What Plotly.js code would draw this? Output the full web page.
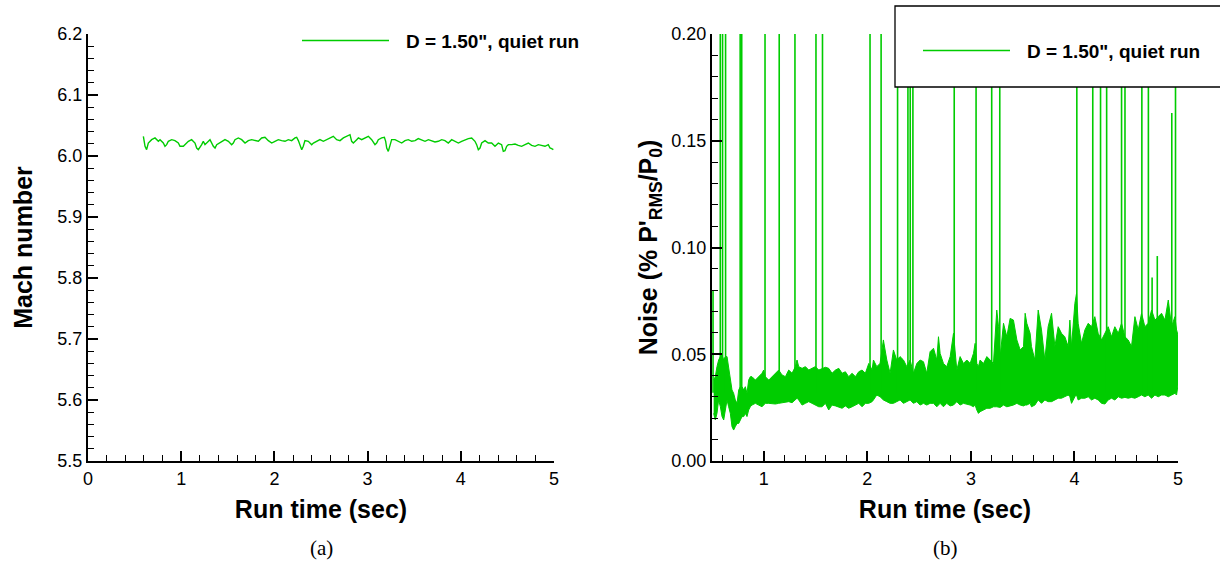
<!DOCTYPE html>
<html>
<head>
<meta charset="utf-8">
<script src="https://cdn.plot.ly/plotly-3.0.1.min.js"></script>
<style>html,body{margin:0;padding:0;background:#fff;}#chart{width:1220px;height:562px;}</style>
</head>
<body>
<div id="chart"></div>
<script>
// ---------- Data ----------
const seriesName = 'D = 1.50", quiet run';

// (a) Mach number vs run time
const machTime = [0.594,0.612,0.629,0.647,0.683,0.719,0.755,0.773,0.808,0.826,0.844,0.862,0.898,0.933,0.969,0.987,1.023,1.041,1.077,1.112,1.148,1.166,1.184,1.220,1.237,1.255,1.273,1.309,1.345,1.363,1.381,1.416,1.452,1.470,1.506,1.541,1.559,1.577,1.613,1.649,1.685,1.720,1.756,1.792,1.828,1.863,1.899,1.935,1.971,2.006,2.042,2.078,2.114,2.149,2.185,2.221,2.239,2.257,2.275,2.293,2.310,2.328,2.364,2.400,2.418,2.454,2.489,2.525,2.561,2.597,2.632,2.668,2.704,2.740,2.775,2.811,2.829,2.847,2.883,2.901,2.936,2.972,3.008,3.044,3.062,3.079,3.097,3.115,3.151,3.180,3.194,3.205,3.222,3.240,3.258,3.294,3.330,3.366,3.401,3.437,3.473,3.509,3.544,3.580,3.616,3.652,3.687,3.723,3.759,3.795,3.830,3.866,3.902,3.938,3.974,4.009,4.045,4.081,4.117,4.152,4.170,4.188,4.206,4.224,4.260,4.295,4.331,4.349,4.367,4.403,4.438,4.456,4.474,4.492,4.510,4.546,4.582,4.617,4.653,4.689,4.725,4.760,4.796,4.832,4.868,4.903,4.939,4.957,4.975,4.993];
const machNumber = [6.0323,6.0159,6.0104,6.0213,6.0268,6.0296,6.0241,6.0268,6.0213,6.0159,6.0186,6.0241,6.0268,6.0252,6.0213,6.0159,6.0159,6.0186,6.0241,6.0268,6.0213,6.0131,6.0104,6.0186,6.0241,6.0186,6.0213,6.0268,6.0159,6.0131,6.0186,6.0213,6.0241,6.0268,6.0241,6.0186,6.0213,6.0268,6.0296,6.0268,6.0213,6.0252,6.0268,6.0252,6.0241,6.0296,6.0307,6.0252,6.0213,6.0241,6.0268,6.0252,6.0241,6.0268,6.0252,6.0296,6.0307,6.0252,6.0186,6.0104,6.0159,6.0252,6.0241,6.0186,6.0213,6.0241,6.0268,6.0241,6.0268,6.0307,6.0323,6.0268,6.0252,6.0296,6.0323,6.0350,6.0241,6.0213,6.0268,6.0296,6.0268,6.0296,6.0323,6.0268,6.0213,6.0186,6.0213,6.0268,6.0296,6.0307,6.0241,6.0131,6.0076,6.0159,6.0268,6.0268,6.0241,6.0213,6.0252,6.0268,6.0241,6.0252,6.0285,6.0268,6.0241,6.0268,6.0252,6.0230,6.0241,6.0268,6.0252,6.0213,6.0268,6.0241,6.0213,6.0241,6.0268,6.0285,6.0296,6.0241,6.0186,6.0104,6.0131,6.0213,6.0252,6.0213,6.0213,6.0186,6.0159,6.0213,6.0186,6.0076,6.0087,6.0159,6.0186,6.0186,6.0197,6.0175,6.0159,6.0186,6.0213,6.0175,6.0159,6.0186,6.0175,6.0159,6.0186,6.0131,6.0120,6.0104];

// (b) Noise band: time, upper and lower envelope of the RMS noise (%)
const noiseTime = [0.516,0.532,0.548,0.564,0.581,0.597,0.613,0.629,0.645,0.661,0.677,0.693,0.709,0.725,0.742,0.758,0.774,0.790,0.806,0.822,0.838,0.854,0.870,0.886,0.919,0.951,0.983,0.999,1.015,1.048,1.080,1.112,1.144,1.176,1.209,1.241,1.273,1.305,1.321,1.337,1.370,1.402,1.434,1.466,1.498,1.531,1.563,1.595,1.627,1.659,1.692,1.724,1.756,1.788,1.820,1.853,1.885,1.917,1.949,1.981,2.014,2.046,2.059,2.091,2.123,2.155,2.188,2.220,2.252,2.284,2.316,2.349,2.381,2.413,2.445,2.478,2.510,2.542,2.574,2.606,2.639,2.671,2.687,2.703,2.735,2.767,2.800,2.832,2.864,2.896,2.928,2.961,2.993,3.025,3.041,3.057,3.073,3.089,3.122,3.154,3.186,3.218,3.250,3.267,3.283,3.315,3.347,3.379,3.411,3.444,3.476,3.508,3.524,3.540,3.572,3.585,3.618,3.650,3.682,3.714,3.746,3.779,3.811,3.843,3.875,3.907,3.940,3.956,3.972,4.004,4.020,4.036,4.068,4.101,4.133,4.165,4.197,4.229,4.262,4.294,4.326,4.358,4.390,4.423,4.455,4.487,4.519,4.551,4.584,4.616,4.648,4.680,4.712,4.745,4.777,4.809,4.841,4.874,4.906,4.938,4.970,4.986,5.000];
const noiseHigh = [0.0379,0.0395,0.0442,0.0473,0.0489,0.0496,0.0473,0.0489,0.0489,0.0442,0.0379,0.0333,0.0317,0.0286,0.0270,0.0333,0.0348,0.0348,0.0333,0.0348,0.0317,0.0379,0.0395,0.0395,0.0379,0.0395,0.0411,0.0426,0.0395,0.0379,0.0395,0.0411,0.0426,0.0403,0.0395,0.0426,0.0411,0.0442,0.0473,0.0442,0.0434,0.0442,0.0426,0.0434,0.0442,0.0426,0.0434,0.0439,0.0434,0.0411,0.0426,0.0434,0.0411,0.0418,0.0395,0.0411,0.0395,0.0418,0.0426,0.0411,0.0457,0.0426,0.0473,0.0442,0.0457,0.0567,0.0473,0.0411,0.0520,0.0473,0.0489,0.0473,0.0442,0.0473,0.0411,0.0457,0.0473,0.0465,0.0411,0.0512,0.0528,0.0473,0.0582,0.0504,0.0457,0.0442,0.0489,0.0598,0.0426,0.0489,0.0457,0.0473,0.0457,0.0504,0.0551,0.0457,0.0442,0.0473,0.0457,0.0489,0.0473,0.0457,0.0707,0.0629,0.0489,0.0645,0.0582,0.0668,0.0660,0.0567,0.0520,0.0536,0.0692,0.0645,0.0598,0.0536,0.0473,0.0707,0.0614,0.0473,0.0629,0.0692,0.0536,0.0629,0.0598,0.0582,0.0536,0.0660,0.0536,0.0738,0.0785,0.0645,0.0551,0.0614,0.0645,0.0629,0.0676,0.0598,0.0567,0.0598,0.0629,0.0582,0.0629,0.0598,0.0645,0.0582,0.0567,0.0536,0.0676,0.0614,0.0692,0.0629,0.0645,0.0707,0.0660,0.0676,0.0692,0.0660,0.0754,0.0629,0.0676,0.0614,0.0590];
const noiseLow = [0.0223,0.0192,0.0223,0.0286,0.0254,0.0208,0.0192,0.0239,0.0286,0.0254,0.0223,0.0161,0.0145,0.0161,0.0176,0.0176,0.0192,0.0208,0.0208,0.0223,0.0208,0.0239,0.0254,0.0262,0.0270,0.0262,0.0254,0.0262,0.0270,0.0270,0.0267,0.0267,0.0270,0.0273,0.0278,0.0278,0.0273,0.0286,0.0294,0.0286,0.0262,0.0270,0.0278,0.0270,0.0262,0.0254,0.0254,0.0270,0.0239,0.0262,0.0258,0.0254,0.0247,0.0258,0.0247,0.0254,0.0262,0.0270,0.0254,0.0270,0.0270,0.0278,0.0286,0.0309,0.0301,0.0286,0.0278,0.0270,0.0270,0.0278,0.0286,0.0270,0.0278,0.0286,0.0270,0.0278,0.0262,0.0270,0.0262,0.0270,0.0270,0.0254,0.0262,0.0270,0.0254,0.0270,0.0258,0.0262,0.0278,0.0262,0.0270,0.0267,0.0262,0.0254,0.0262,0.0239,0.0223,0.0231,0.0239,0.0247,0.0247,0.0254,0.0254,0.0254,0.0251,0.0262,0.0254,0.0258,0.0262,0.0270,0.0262,0.0258,0.0262,0.0262,0.0270,0.0254,0.0262,0.0286,0.0270,0.0286,0.0278,0.0278,0.0286,0.0294,0.0294,0.0301,0.0309,0.0301,0.0270,0.0301,0.0309,0.0286,0.0294,0.0294,0.0301,0.0286,0.0294,0.0286,0.0270,0.0267,0.0286,0.0294,0.0286,0.0301,0.0294,0.0298,0.0294,0.0298,0.0294,0.0301,0.0309,0.0301,0.0309,0.0294,0.0309,0.0301,0.0309,0.0309,0.0301,0.0309,0.0317,0.0309,0.0356];

// (b) Isolated spikes: time and peak value (values above 0.20 run off the top of the axis)
const spikeTime = [0.510,0.580,0.602,0.631,0.772,0.787,1.012,1.149,1.301,1.504,1.567,2.026,2.133,2.292,2.392,2.414,2.440,2.839,3.050,3.201,3.279,4.023,4.177,4.252,4.311,4.455,4.488,4.651,4.714,4.750,4.800,4.940,4.976];
const spikePeak = [0.080,0.30,0.30,0.30,0.30,0.30,0.30,0.30,0.30,0.30,0.30,0.30,0.30,0.30,0.30,0.30,0.30,0.30,0.30,0.30,0.30,0.30,0.30,0.30,0.30,0.30,0.30,0.30,0.30,0.086,0.096,0.163,0.30];
const spikeBase = 0.032;

// ---------- Build traces ----------
const GREEN = 'rgb(0,204,0)';
const spikeX = [], spikeY = [];
spikeTime.forEach((t, i) => { spikeX.push(t, t, null); spikeY.push(spikeBase, spikePeak[i], null); });

const traces = [
  {x: machTime, y: machNumber, xaxis: 'x', yaxis: 'y', type: 'scatter', mode: 'lines',
   name: seriesName, line: {color: GREEN, width: 1.4}, legend: 'legend', showlegend: true},
  {x: noiseTime, y: noiseLow, xaxis: 'x2', yaxis: 'y2', type: 'scatter', mode: 'lines',
   line: {color: GREEN, width: 1}, showlegend: false, hoverinfo: 'skip'},
  {x: noiseTime, y: noiseHigh, xaxis: 'x2', yaxis: 'y2', type: 'scatter', mode: 'lines',
   fill: 'tonexty', fillcolor: GREEN, line: {color: GREEN, width: 1}, showlegend: false, hoverinfo: 'skip'},
  {x: spikeX, y: spikeY, xaxis: 'x2', yaxis: 'y2', type: 'scatter', mode: 'lines',
   name: seriesName, line: {color: GREEN, width: 1.6}, legend: 'legend2', showlegend: true}
];

const FONT = "'Liberation Sans', Arial, Helvetica, sans-serif";
const W = 1220, H = 562;
const px = v => v / W, py = v => (H - v) / H;

function axisBase(extra) {
  return Object.assign({
    showline: true, linecolor: 'black', linewidth: 2, mirror: false,
    showgrid: false, zeroline: false, ticks: 'inside', ticklen: 10, tickwidth: 2, tickcolor: 'black',
    tickfont: {family: FONT, size: 18, color: 'black'}, automargin: false, fixedrange: true
  }, extra);
}
const titleFont = {family: FONT, size: 25, color: 'black', weight: 'bold'};
const minorX = {dtick: 0.2, tick0: 0, ticks: 'inside', ticklen: 6, tickwidth: 1, tickcolor: 'black', showgrid: false};
const captionFont = {family: "'Liberation Serif', 'DejaVu Serif', serif", size: 21, color: 'black'};
const legendFont = {family: FONT, size: 19, color: 'black', weight: 'bold'};

const layout = {
  width: W, height: H, margin: {l: 0, r: 0, t: 0, b: 0},
  paper_bgcolor: 'white', plot_bgcolor: 'white',
  font: {family: FONT, size: 18, color: 'black'},
  xaxis: axisBase({domain: [px(88), px(554)], anchor: 'y', range: [0, 5], tick0: 0, dtick: 1, minor: minorX,
    title: {text: 'Run time (sec)', font: titleFont, standoff: 13}}),
  yaxis: axisBase({domain: [py(461), py(34)], anchor: 'x', range: [5.5, 6.2], tick0: 5.5, dtick: 0.1, tickformat: '.1f',
    minor: {dtick: 0.02, tick0: 5.5, ticks: 'inside', ticklen: 6, tickwidth: 1, tickcolor: 'black', showgrid: false},
    title: {text: 'Mach number', font: titleFont, standoff: 18}}),
  xaxis2: axisBase({domain: [px(712), px(1178)], anchor: 'y2', range: [0.5, 5], tick0: 0, dtick: 1, minor: minorX,
    title: {text: 'Run time (sec)', font: titleFont, standoff: 13}}),
  yaxis2: axisBase({domain: [py(461), py(34)], anchor: 'x2', range: [0, 0.2], tick0: 0, dtick: 0.05, tickformat: '.2f',
    minor: {dtick: 0.01, tick0: 0, ticks: 'inside', ticklen: 6, tickwidth: 1, tickcolor: 'black', showgrid: false},
    title: {text: "Noise (% P'<sub>RMS</sub>/P<sub>0</sub>)", font: titleFont, standoff: 7}}),
  legend: {x: px(297), y: py(40.7), xanchor: 'left', yanchor: 'middle', bgcolor: 'rgba(0,0,0,0)', borderwidth: 0,
    itemwidth: 99, font: legendFont},
  legend2: {x: px(918), y: py(50.7), xanchor: 'left', yanchor: 'middle', bgcolor: 'rgba(0,0,0,0)', borderwidth: 0,
    itemwidth: 99, font: legendFont},
  shapes: [
    {type: 'rect', xref: 'paper', yref: 'paper', x0: px(895), x1: px(1226), y0: py(87), y1: py(6),
     line: {color: 'black', width: 1.3}, fillcolor: 'white', layer: 'above'}
  ],
  annotations: [
    {text: '(a)', xref: 'paper', yref: 'paper', x: px(321), y: py(548), xanchor: 'center', yanchor: 'middle', showarrow: false, font: captionFont},
    {text: '(b)', xref: 'paper', yref: 'paper', x: px(945), y: py(548), xanchor: 'center', yanchor: 'middle', showarrow: false, font: captionFont}
  ],
  showlegend: true
};

Plotly.newPlot('chart', traces, layout, {staticPlot: true, displayModeBar: false}).then(gd => {
  // the reference legend sample line is a bit shorter than the label offset: trim it
  gd.querySelectorAll('.legendlines path').forEach(p => p.setAttribute('d', 'M5,0h87'));
});
</script>
</body>
</html>
